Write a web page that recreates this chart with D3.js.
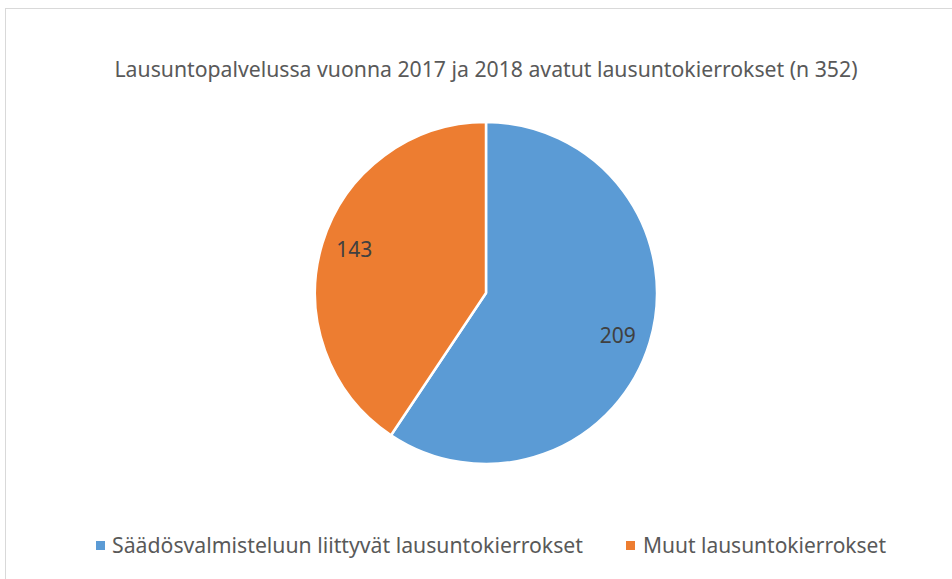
<!DOCTYPE html>
<html><head><meta charset="utf-8">
<script src="https://cdn.jsdelivr.net/npm/d3@7"></script>
<style>html,body{margin:0;padding:0;background:#fff;}svg{display:block;}</style>
</head><body>
<svg id="c" width="952" height="579"></svg>
<script>
const categories = ["Säädösvalmisteluun liittyvät lausuntokierrokset", "Muut lausuntokierrokset"];
const values = [209, 143];
const colors = ["#5b9bd5", "#ed7d31"];
const title = "Lausuntopalvelussa vuonna 2017 ja 2018 avatut lausuntokierrokset (n 352)";

const svg = d3.select("#c");
const font = "'Noto Sans', 'Open Sans', sans-serif";
const textColor = "#595959";

svg.append("rect").attr("x", 5.5).attr("y", 8.5).attr("width", 960).attr("height", 600)
  .attr("fill", "#fff").attr("stroke", "#d9d9d9").attr("stroke-width", 1);

svg.append("text").attr("x", 486).attr("y", 77).attr("text-anchor", "middle")
  .attr("font-family", font).attr("font-size", 21).attr("fill", textColor)
  .attr("textLength", 743).attr("lengthAdjust", "spacingAndGlyphs")
  .text(title);

const cx = 486, cy = 293, r = 171;
const pie = d3.pie().sort(null).value(d => d)(values);
const arc = d3.arc().innerRadius(0).outerRadius(r);
const labelR = r * 0.81;
const g = svg.append("g").attr("transform", `translate(${cx},${cy})`);
g.selectAll("path").data(pie).join("path")
  .attr("d", arc).attr("fill", (d, i) => colors[i])
  .attr("stroke", "#fff").attr("stroke-width", 2.5).attr("stroke-linejoin", "round");
// label placed on the mid-angle ray, pushed slightly further from the horizontal (Excel-like)
g.selectAll("text.lbl").data(pie).join("text").attr("class", "lbl")
  .attr("transform", d => {
    const a = (d.startAngle + d.endAngle) / 2;
    const a2 = a + (Math.sin(a) > 0 ? 1 : -1) * Math.cos(a) * -0.07;
    return `translate(${labelR * Math.sin(a2)},${-labelR * Math.cos(a2)})`;
  })
  .attr("text-anchor", "middle").attr("dy", "0.35em")
  .attr("font-family", font).attr("font-size", 21).attr("fill", "#404040")
  .text(d => d.data);

// legend
const legendItems = [
  {sx: 96, tx: 112, w: 471},
  {sx: 626, tx: 643, w: 243}
];
const lg = svg.append("g");
categories.forEach((c, i) => {
  lg.append("rect").attr("x", legendItems[i].sx).attr("y", 541).attr("width", 9).attr("height", 9).attr("fill", colors[i]);
  lg.append("text").attr("x", legendItems[i].tx).attr("y", 553)
    .attr("font-family", font).attr("font-size", 21).attr("fill", textColor)
    .attr("textLength", legendItems[i].w).attr("lengthAdjust", "spacingAndGlyphs")
    .text(c);
});
</script>
</body></html>
